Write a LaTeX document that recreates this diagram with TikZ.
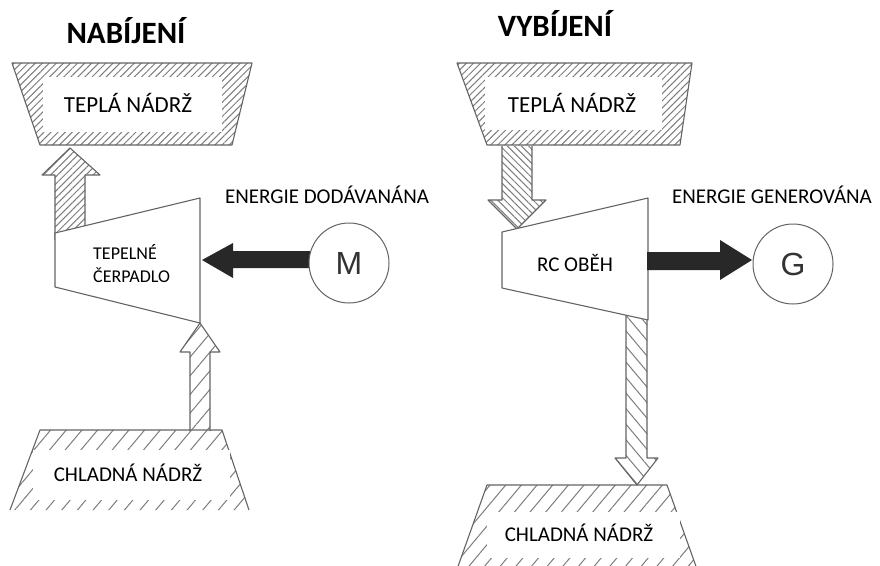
\documentclass[tikz,border=0pt]{standalone}
\usepackage{fontspec}
\setmainfont{Carlito}
\newfontfamily\arialfont{Liberation Sans}
\usetikzlibrary{patterns.meta}
\definecolor{edgegray}{RGB}{100,100,100}
\definecolor{hatchgray}{RGB}{125,125,125}
\definecolor{darkarrow}{RGB}{40,40,40}
\begin{document}
\begin{tikzpicture}[x=1pt,y=-1pt,
  outline/.style={draw=edgegray,line width=1.1pt,line join=round},
  densefwd/.style={pattern={Lines[angle=45,distance=5pt,line width=1pt]},pattern color=hatchgray},
  densebwd/.style={pattern={Lines[angle=-45,distance=5pt,line width=1pt]},pattern color=hatchgray},
  sparsefwd/.style={pattern={Lines[angle=50,distance=12pt,line width=1pt]},pattern color=hatchgray},
  sparsebwd/.style={pattern={Lines[angle=-50,distance=10pt,line width=1pt]},pattern color=hatchgray},
  txt/.style={font=\fontsize{21}{25}\selectfont,inner sep=0pt},
  hottxt/.style={font=\fontsize{23}{27}\selectfont,inner sep=0pt},
  title/.style={font=\fontsize{31}{34}\selectfont\bfseries,inner sep=0pt},
  machine/.style={circle,draw=edgegray,line width=1pt,fill=white,minimum size=80pt,inner sep=0pt,
    font=\arialfont\fontsize{32}{34}\selectfont,text=black!80}]
\clip (0,0) rectangle (880,565);
\fill[white] (0,0) rectangle (880,565);

% ---------------- NABIJENI ----------------
\node[title] (t1) at (126,31) {NABÍJENÍ};

% hot reservoir
\draw[outline,densefwd] (12,63) -- (252,63) -- (232,145) -- (40,145) -- cycle;
\fill[white] (43,77) rectangle (222,132);
\node[hottxt] (hot1) at (128,103) {TEPLÁ NÁDRŽ};

% cold reservoir
\fill[sparsefwd] (40,430) -- (222,430) -- (249,510) -- (10,510) -- cycle;
\draw[outline] (10,510) -- (40,430) -- (222,430) -- (249,510);
\fill[white] (33,450) rectangle (230,500);
\node[txt] (cold1) at (128,473) {CHLADNÁ NÁDRŽ};

% hot arrow (up)
\draw[outline,densefwd] (55,240) -- (55,175) -- (42,175) -- (70,148) -- (100,175) -- (85,175) -- (85,240);
% cold arrow (up)
\draw[outline,sparsefwd] (190,431) -- (190,352) -- (180,352) -- (200,323) -- (220,352) -- (210,352) -- (210,431);

% heat pump
\draw[outline,fill=white] (55,233) -- (200,198) -- (200,323) -- (55,287) -- cycle;
\node[font=\fontsize{18}{23}\selectfont,inner sep=0pt,align=left,anchor=west] (hp) at (93,264) {TEPELNÉ\\ČERPADLO};

% work arrow
\fill[darkarrow] (202,260) -- (233,243) -- (233,251) -- (320,251) -- (320,268) -- (233,268) -- (233,278) -- cycle;
\node[machine] (m) at (349,263) {M};
\node[txt] (e1) at (327,195) {ENERGIE DODÁVANÁNA};

% ---------------- VYBIJENI ----------------
\node[title] (t2) at (555,24) {VYBÍJENÍ};

% hot reservoir
\draw[outline,densefwd] (457,63) -- (692,63) -- (680,145) -- (487,145) -- cycle;
\fill[white] (485,77) rectangle (662,130);
\node[hottxt] (hot2) at (572,103) {TEPLÁ NÁDRŽ};

% cold reservoir
\fill[sparsefwd] (487,485) -- (667,485) -- (698,572) -- (456,572) -- cycle;
\draw[outline] (456,572) -- (487,485) -- (667,485) -- (698,572);
\fill[white] (487,512) rectangle (680,558);
\node[txt] (cold2) at (579,533) {CHLADNÁ NÁDRŽ};

% hot arrow (down)
\draw[outline,densebwd] (502,146) -- (502,200) -- (488,200) -- (517,229) -- (546,200) -- (532,200) -- (532,146);
% cold arrow (down)
\draw[outline,sparsebwd] (626,300) -- (626,458) -- (615,458) -- (637,485) -- (658,458) -- (647,458) -- (647,300);

% RC cycle
\draw[outline,fill=white] (502,232) -- (648,198) -- (648,320) -- (502,288) -- cycle;
\node[txt] (rc) at (575,263) {RC OBĚH};

% work arrow
\fill[darkarrow] (647,252) -- (720,252) -- (720,240) -- (752,260) -- (720,280) -- (720,270) -- (647,270) -- cycle;
\node[machine] (g) at (793,264) {G};
\node[txt] (e2) at (772,195) {ENERGIE GENEROVÁNA};
\end{tikzpicture}
\end{document}
